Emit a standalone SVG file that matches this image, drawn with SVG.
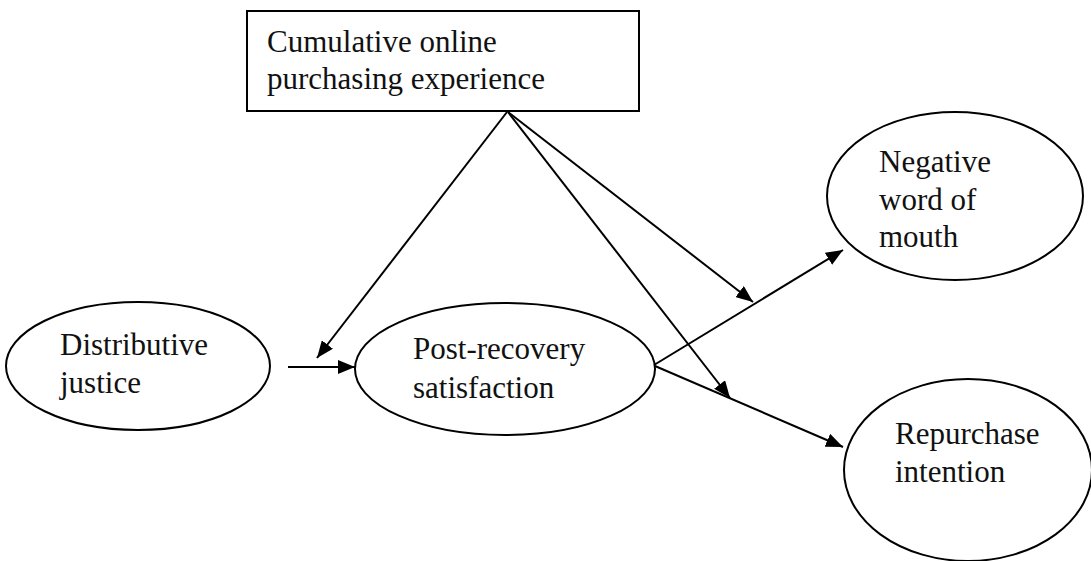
<svg xmlns="http://www.w3.org/2000/svg" width="1091" height="561" viewBox="0 0 1091 561">
  <style>
    .shape { fill: #ffffff; stroke: #000000; stroke-width: 2; }
    .label { font-family: "Liberation Serif", "Times New Roman", serif; font-size: 31px; fill: #111111; }
    .link { stroke: #000000; stroke-width: 2; fill: none; marker-end: url(#head); }
  </style>
  <defs>
    <marker id="head" markerUnits="userSpaceOnUse" markerWidth="18" markerHeight="14" refX="17" refY="7" orient="auto">
      <path d="M0,0 L17,7 L0,14 z" fill="#000000"/>
    </marker>
  </defs>
  <rect width="1091" height="561" fill="#ffffff"/>

  <g id="node-experience">
    <rect class="shape" x="247" y="11" width="392" height="100"/>
    <text class="label" x="267" y="52">Cumulative online</text>
    <text class="label" x="267" y="89">purchasing experience</text>
  </g>

  <g id="node-distributive">
    <ellipse class="shape" cx="138" cy="366" rx="132" ry="64"/>
    <text class="label" x="60" y="355">Distributive</text>
    <text class="label" x="60" y="393">justice</text>
  </g>

  <g id="node-satisfaction">
    <ellipse class="shape" cx="505" cy="369" rx="150" ry="66"/>
    <text class="label" x="413" y="359">Post-recovery</text>
    <text class="label" x="413" y="398">satisfaction</text>
  </g>

  <g id="node-wom">
    <ellipse class="shape" cx="955" cy="196" rx="128" ry="84"/>
    <text class="label" x="879" y="172">Negative</text>
    <text class="label" x="879" y="210">word of</text>
    <text class="label" x="879" y="247">mouth</text>
  </g>

  <g id="node-repurchase">
    <ellipse class="shape" cx="968" cy="470" rx="124" ry="91"/>
    <text class="label" x="895" y="444">Repurchase</text>
    <text class="label" x="895" y="482">intention</text>
  </g>

  <g id="connectors">
    <line class="link" x1="288" y1="367" x2="355" y2="367"/>
    <line class="link" x1="507" y1="112" x2="317" y2="358"/>
    <line class="link" x1="508" y1="112" x2="753" y2="302"/>
    <line class="link" x1="508" y1="112" x2="730" y2="398"/>
    <line class="link" x1="654" y1="365" x2="843" y2="250"/>
    <line class="link" x1="655" y1="366" x2="843" y2="447"/>
  </g>
</svg>
